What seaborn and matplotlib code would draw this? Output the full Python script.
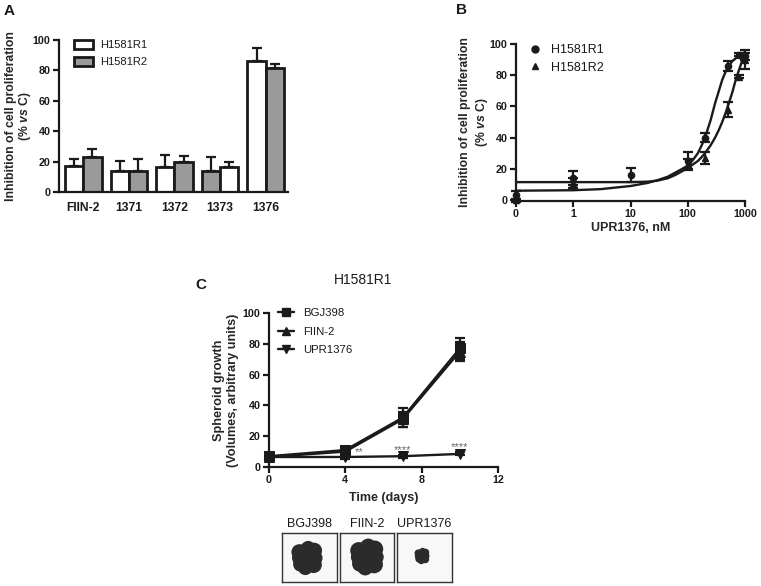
import matplotlib
matplotlib.use("Agg")
import matplotlib.pyplot as plt
import seaborn as sns
import pandas as pd
from matplotlib.patches import Patch
from matplotlib.lines import Line2D

W, H = 761, 586
sns.set_style("ticks")
plt.rcParams['font.family'] = ['Liberation Sans', 'DejaVu Sans']
plt.rcParams['mathtext.fontset'] = 'custom'
plt.rcParams['mathtext.it'] = 'Liberation Sans:italic:bold'
plt.rcParams['mathtext.rm'] = 'Liberation Sans:bold'
INK = '#1a1a1a'
plt.rcParams['text.color'] = INK

# Panel A
compounds = ['FIIN-2', '1371', '1372', '1373', '1376']
r1_bar = [17, 13.5, 16.5, 14, 86]
r2_bar = [23, 13.5, 20, 16.5, 81.5]
r1_bar_err = [5, 7, 8, 9, 8.5]
r2_bar_err = [5.5, 8, 4, 3, 3]
r1_fill = ['white', 'white', 'white', '#9a9a9a', 'white']
r2_fill = ['#9a9a9a', '#9a9a9a', '#9a9a9a', 'white', '#9a9a9a']

# Panel B
b_x_r1 = [0.1, 1, 10, 100, 200, 500, 800, 1000]
b_y_r1 = [3, 14, 16, 25, 40, 86, 93, 92]
b_e_r1 = [3, 4.5, 4.5, 6, 3, 3, 1, 2]
b_x_r2 = [0.1, 1, 100, 200, 500, 800, 1000]
b_y_r2 = [0, 11, 23, 27, 58, 79, 90]
b_e_r2 = [1, 3, 3, 4, 5, 1, 6]
fit_x = [0.1, 1, 3, 10, 20, 30, 45, 60, 80, 100, 125, 150, 175, 200, 250, 300, 350, 400, 450, 500, 600, 700, 850, 1000]
fit_r1 = [6, 6.3, 7, 9, 11, 12.8, 15, 17.5, 20, 22, 26, 30, 35, 40, 51, 62, 70, 77, 81.5, 85, 89, 91, 93, 94]
fit_r2 = [11.5, 11.5, 11.5, 11.5, 11.8, 12.5, 14, 16, 18.5, 20.5, 23, 25, 27.5, 30, 35, 40, 45, 50, 55, 60, 69, 78, 87, 95]
b_ticks = [0.1, 1, 10, 100, 1000]
b_tick_labels = ['0', '1', '10', '100', '1000']

# Panel C
days = [0, 4, 7, 10]
bgj = [7, 11, 32, 77]
bgj_err = [2, 1.5, 6, 7]
fiin = [6.5, 10, 31, 75]
fiin_err = [2, 1.5, 5, 6]
upr = [6.5, 6.5, 7, 8.5]
upr_err = [1.5, 1, 1, 1]
sig_x = [4.7, 7, 10]
sig_y = [6.5, 8, 10]
sig_labels = ['**', '****', '****']

# Spheroid photographs
photo_names = ['BGJ398', 'FIIN-2', 'UPR1376']
photo_cx = [0.455, 0.505, 0.455]
photo_cy = [0.49, 0.51, 0.53]
photo_scale = [1.0, 1.08, 0.48]
lobe_dx = [0, 0.13, -0.14, 0.02, -0.03, 0.12, -0.12, 0.15, -0.16]
lobe_dy = [0, 0.15, 0.12, 0.2, -0.2, -0.14, -0.13, 0.0, 0.0]
lobe_size = [430, 130, 130, 110, 110, 140, 110, 110, 80]


def px_axes(left, top, right, bottom):
    return fig.add_axes([left / W, 1 - bottom / H, (right - left) / W, (bottom - top) / H])


def style(ax, size=7.7):
    sns.despine(ax=ax)
    for s in ('left', 'bottom'):
        ax.spines[s].set_linewidth(1.6)
        ax.spines[s].set_color(INK)
    ax.tick_params(width=1.6, length=4, labelsize=size, color=INK, pad=2, labelcolor=INK)
    for t in ax.get_xticklabels() + ax.get_yticklabels():
        t.set_fontweight('bold')


fig = plt.figure(figsize=(W / 100, H / 100), dpi=100)

# ---- A
axA = px_axes(59, 40, 288, 192)
dfA = pd.DataFrame({
    'compound': compounds * 2,
    'value': r1_bar + r2_bar,
    'line': ['H1581R1'] * 5 + ['H1581R2'] * 5,
})
sns.barplot(data=dfA, x='compound', y='value', hue='line', ax=axA, errorbar=None,
            width=0.8, gap=0, legend=False, palette=['white', '#9a9a9a'],
            edgecolor=INK, linewidth=2, saturation=1)
for cont, fills, vals, errs in zip(axA.containers, (r1_fill, r2_fill), (r1_bar, r2_bar), (r1_bar_err, r2_bar_err)):
    for bar, fc, v, e in zip(cont, fills, vals, errs):
        bar.set_facecolor(fc)
        axA.errorbar(bar.get_x() + bar.get_width() / 2, v, yerr=[[0], [e]], color=INK,
                     elinewidth=1.6, capsize=3.6, capthick=1.6, zorder=1)
axA.set_xlim(-0.533, 4.49)
axA.set_ylim(0, 100)
axA.set_yticks(range(0, 101, 20))
axA.set_xlabel('')
axA.set_ylabel('Inhibition of cell proliferation\n(% $\\mathit{vs}$ C)', fontsize=8.8, fontweight='bold', labelpad=-0.5, linespacing=1.05)
style(axA)
axA.tick_params(axis='x', length=0, pad=7, labelsize=8.7)
axA.legend(handles=[Patch(facecolor='white', edgecolor=INK, linewidth=2, label='H1581R1'),
                    Patch(facecolor='#9a9a9a', edgecolor=INK, linewidth=2, label='H1581R2')],
           loc='upper left', bbox_to_anchor=(0.065, 1.0), frameon=False, fontsize=8,
           handlelength=1.7, handleheight=0.9, labelspacing=0.55, handletextpad=0.7, borderpad=0, borderaxespad=0)

# ---- B
axB = px_axes(516, 44, 745, 201)
axB.set_xscale('log')
sns.lineplot(x=fit_x, y=fit_r1, ax=axB, color=INK, lw=1.7, errorbar=None)
sns.lineplot(x=fit_x, y=fit_r2, ax=axB, color=INK, lw=1.7, errorbar=None)
axB.errorbar(b_x_r1, b_y_r1, yerr=b_e_r1, fmt='o', ms=4.5, color=INK, elinewidth=1.6, capsize=3.5, capthick=1.6, clip_on=False)
axB.errorbar(b_x_r2, b_y_r2, yerr=b_e_r2, fmt='^', ms=4.5, color=INK, elinewidth=1.6, capsize=3.5, capthick=1.6, clip_on=False)
axB.set_xlim(0.1, 1000)
axB.set_ylim(-0.6, 100)
axB.set_xticks(b_ticks, b_tick_labels)
axB.minorticks_off()
axB.set_yticks(range(0, 101, 20))
axB.set_xlabel('UPR1376, nM', fontsize=9, fontweight='bold', labelpad=2)
axB.set_ylabel('Inhibition of cell proliferation\n(% $\\mathit{vs}$ C)', fontsize=8.8, fontweight='bold', labelpad=-0.5, linespacing=1.3)
style(axB)
axB.legend(handles=[Line2D([], [], ls='', marker='o', ms=5, color=INK, label='H1581R1'),
                    Line2D([], [], ls='', marker='^', ms=5, color=INK, label='H1581R2')],
           loc='upper left', bbox_to_anchor=(0.05, 1.0), frameon=False, fontsize=9,
           handlelength=1.2, labelspacing=0.45, handletextpad=0.7, borderpad=0, borderaxespad=0)

# ---- C
axC = px_axes(269, 313, 498, 467)
dfC = pd.DataFrame({
    'day': days * 3,
    'v': bgj + fiin + upr,
    'drug': ['BGJ398'] * 4 + ['FIIN-2'] * 4 + ['UPR1376'] * 4,
})
for vals, errs in ((bgj, bgj_err), (fiin, fiin_err), (upr, upr_err)):
    axC.errorbar(days, vals, yerr=errs, fmt='none', ecolor=INK, elinewidth=1.6, capsize=3.5, capthick=1.6, clip_on=False)
sns.lineplot(data=dfC, x='day', y='v', hue='drug', style='drug', ax=axC,
             palette=[INK] * 3, markers=['s', '^', 'v'], dashes=False, lw=1.7, ms=6.5,
             markeredgecolor=INK, errorbar=None, legend=False, clip_on=False)
for x, y, s in zip(sig_x, sig_y, sig_labels):
    axC.text(x, y, s, ha='center', va='bottom', fontsize=8, color='#666666', linespacing=1)
axC.set_xlim(0, 12)
axC.set_ylim(0, 100)
axC.set_xticks([0, 4, 8, 12])
axC.set_yticks(range(0, 101, 20))
axC.set_xlabel('Time (days)', fontsize=9, fontweight='bold', labelpad=5)
axC.set_ylabel('Spheroid growth\n(Volumes, arbitrary units)', fontsize=9.2, fontweight='bold', labelpad=3)
style(axC)
axC.legend(handles=[Line2D([], [], marker=m, ms=6, lw=1.7, color=INK, label=l)
                    for m, l in zip('s^v', photo_names)],
           loc='upper left', bbox_to_anchor=(0.04, 1.03), frameon=False, fontsize=8.2,
           handlelength=1.4, labelspacing=0.75, handletextpad=0.8, borderpad=0, borderaxespad=0)

# ---- Photos
boxes = [(282, 337), (339.5, 394), (397, 452)]
for (l, r), name, cx, cy, k in zip(boxes, photo_names, photo_cx, photo_cy, photo_scale):
    ax = px_axes(l, 533, r, 582)
    ax.set_facecolor('#f8f8f8')
    ax.set_xlim(0, 1); ax.set_ylim(0, 1); ax.set_xticks([]); ax.set_yticks([])
    for s in ax.spines.values():
        s.set_linewidth(1.0); s.set_color('#333333')
    ax.scatter([cx + d * k for d in lobe_dx], [cy + d * k for d in lobe_dy],
               s=[a * k ** 2 for a in lobe_size], marker='o', color='#2b2b2b', lw=0)
    ax.set_title(name, fontsize=9, pad=4, color=INK)

# ---- Figure text
fig.text(363 / W, 1 - 280 / H, 'H1581R1', ha='center', va='center', fontsize=10)
for x, y, s in ((4, 11, 'A'), (456, 10, 'B'), (195, 285, 'C')):
    fig.text(x / W, 1 - y / H, s, ha='left', va='center', fontsize=11, fontweight='bold')

fig.savefig('out.png', dpi=100)
